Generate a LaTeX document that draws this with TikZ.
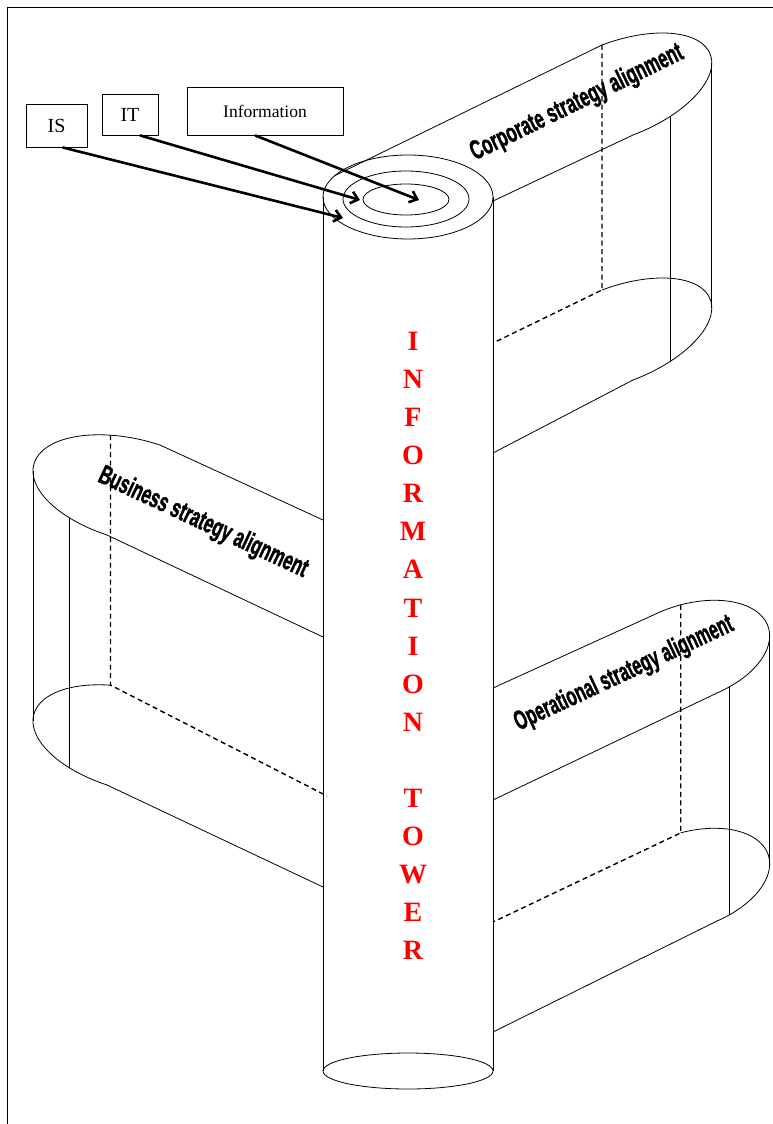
\documentclass[tikz,border=0pt]{standalone}
\usepackage{fontspec}
\setmainfont{Liberation Serif}
\setsansfont{Liberation Sans}
\newfontfamily\bandfont{Liberation Sans}[BoldFeatures={FakeBold=1.6}]
\usetikzlibrary{arrows.meta}

% half of a slanted ellipse: centre x y, half axis u, half axis v, from angle, to angle
\newcommand{\bandcap}[8]{plot[domain=#7:#8, samples=40, smooth, variable=\t]
  ({#1+(#3)*cos(\t)+(#5)*sin(\t)}, {#2+(#4)*cos(\t)+(#6)*sin(\t)})}

\begin{document}
\begin{tikzpicture}[
    x=1pt, y=-1pt,
    edge/.style={line width=0.8pt},
    hidden/.style={line width=1.4pt, dash pattern=on 5pt off 3.5pt},
    box/.style={draw, line width=0.8pt, inner sep=0pt},
    pointer/.style={line width=2.6pt, -{Straight Barb[length=7pt, width=12pt]}},
    bandlabel/.style={font=\bandfont\bfseries\fontsize{27}{30}\selectfont, inner sep=0pt},
    towerword/.style={text=red, font=\bfseries\fontsize{28}{38.1}\selectfont, align=center, inner sep=0pt}
]
  \useasboundingbox (0,0) rectangle (773,1124);
  \clip (0,0) rectangle (773,1124);

  % --- PAGE FRAME ---
  \draw[edge] (7,1200) -- (7,7) -- (820,7);

  % --- CORPORATE BAND (upper right) ---
  \draw[edge] (334,176) -- (602,45);
  \draw[edge] \bandcap{617.5}{90}{93}{-35}{-15.5}{-45}{90}{-90};
  \draw[edge] (633,135) -- (493,201);
  \draw[edge] \bandcap{617.5}{335}{93}{-35}{-15.5}{-45}{90}{-90};
  \draw[edge] (633,380) -- (493,453);
  \draw[edge] (711.8,63.3) -- (711.8,308.3);
  \draw[edge] (670.8,116) -- (670.8,361);
  \draw[hidden] (602,45) -- (602,290) -- (493,343);

  % --- BUSINESS BAND (left) ---
  \draw[edge] (160,445) -- (323,520);
  \draw[edge] \bandcap{133.5}{490}{-97}{-32}{26.5}{-45}{90}{-90};
  \draw[edge] (107,535) -- (323,637);
  \draw[edge] \bandcap{133.5}{740}{-97}{-32}{26.5}{-45}{61.5}{-90};
  \draw[edge] (107,785) -- (323,887);
  \draw[edge] (32.9,471) -- (32.9,721);
  \draw[edge] (69.8,518.1) -- (69.8,768.1);
  \draw[hidden] (110.5,435.1) -- (110.5,685.1) -- (327,796);

  % --- OPERATIONAL BAND (lower right) ---
  \draw[edge] (493,688) -- (660,612);
  \draw[edge] \bandcap{688.5}{652.5}{76}{-33}{-28.5}{-40.5}{90}{-90};
  \draw[edge] (717,693) -- (493,800);
  \draw[edge] \bandcap{688.5}{880.5}{76}{-33}{-28.5}{-40.5}{75}{-90};
  \draw[edge] (717,921) -- (493,1032);
  \draw[edge] (769.6,635.9) -- (769.6,863.9);
  \draw[edge] (729.8,686.7) -- (729.8,914.7);
  \draw[hidden] (680.7,604.9) -- (680.7,832.9) -- (493,922);

  % --- TOWER ---
  \draw[edge] (408,197) ellipse[x radius=85, y radius=42];
  \draw[edge] (406,199) ellipse[x radius=63, y radius=28];
  \draw[edge] (406,199.5) ellipse[x radius=43, y radius=15.5];
  \draw[edge] (323,197) -- (323,1071);
  \draw[edge] (493,197) -- (493,1071);
  \draw[edge] (408,1071) ellipse[x radius=85, y radius=18];

  \node[towerword] (tower) at (413,646)
    {I\\N\\F\\O\\R\\M\\A\\T\\I\\O\\N\\[38.1pt]T\\O\\W\\E\\R};

  % --- BAND LABELS ---
  \node[bandlabel, rotate=26] (corp) at (577,103)
    {\scalebox{0.62}[1]{Corporate strategy alignment}};
  \node[bandlabel, rotate=-25] (busi) at (203,523)
    {\scalebox{0.62}[1]{Business strategy alignment}};
  \node[bandlabel, rotate=25] (oper) at (624,674)
    {\scalebox{0.6}[1]{Operational strategy alignment}};

  % --- BOXES AND ARROWS ---
  \node[box, minimum width=61pt, minimum height=43pt, font=\fontsize{20}{24}\selectfont] (is) at (56.5,125.5) {IS};
  \node[box, minimum width=56pt, minimum height=41pt, font=\fontsize{20}{24}\selectfont] (it) at (130,114.5) {IT};
  \node[box, minimum width=156pt, minimum height=48pt, font=\fontsize{17.5}{21}\selectfont] (info) at (265,111) {Information};

  \coordinate (isend) at (343,218);
  \coordinate (itend) at (360,200);
  \coordinate (infoend) at (419,200);

  \draw[pointer] ([xshift=6pt]is.south) -- (isend);
  \draw[pointer] ([xshift=10pt]it.south) -- (itend);
  \draw[pointer] ([xshift=-10pt]info.south) -- (infoend);
\end{tikzpicture}
\end{document}
